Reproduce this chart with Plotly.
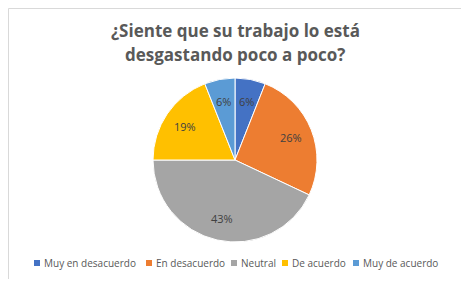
import math
import plotly.graph_objects as go

categories = ["Muy en desacuerdo", "En desacuerdo", "Neutral", "De acuerdo", "Muy de acuerdo"]
values = [6, 26, 43, 19, 6]
colors = ["#4472C4", "#ED7D31", "#A5A5A5", "#FFC000", "#5B9BD5"]
title_lines = ["¿Siente que su trabajo lo está", "desgastando poco a poco?"]

# page body has an 8px margin; figure sized to fit the 469x287 window
OFF = 8
FW, FH = 469 - 2 * OFF, 287 - 2 * OFF


def px(x):
    return (x - OFF) / FW


def py(y):
    return 1 - (y - OFF) / FH


# pie geometry (window pixels)
CX, CY, R = 235, 160, 82

fig = go.Figure(go.Pie(
    labels=categories,
    values=values,
    sort=False,
    direction="clockwise",
    rotation=0,
    marker=dict(colors=colors, line=dict(color="white", width=1)),
    textinfo="none",
    domain=dict(x=[px(CX - R), px(CX + R)], y=[py(CY + R), py(CY - R)]),
    hoverinfo="label+percent",
    showlegend=False,
))

annotations = []
# title
for i, line in enumerate(title_lines):
    annotations.append(dict(
        text="<b>" + line + "</b>", x=px(235), y=py(30 + 25 * i), xref="paper", yref="paper",
        xanchor="center", yanchor="middle", showarrow=False,
        font=dict(family="Open Sans", size=17, color="#595959"),
    ))

# percentage labels placed along each slice's mid angle
total = sum(values)
cum = 0
for v in values:
    mid = (cum + v / 2) / total * 2 * math.pi
    cum += v
    lx = CX + 0.73 * R * math.sin(mid)
    ly = CY - 0.73 * R * math.cos(mid)
    annotations.append(dict(
        text=f"{round(100 * v / total)}%", x=px(lx), y=py(ly), xref="paper", yref="paper",
        xanchor="center", yanchor="middle", showarrow=False,
        font=dict(family="Open Sans", size=11, color="#404040"),
    ))

# custom horizontal legend
legend_sq_x = [34, 146, 231, 282, 353]
LEG_Y = 263
shapes = []
for name, col, sx in zip(categories, colors, legend_sq_x):
    shapes.append(dict(
        type="rect", xref="paper", yref="paper",
        x0=px(sx), x1=px(sx + 6), y0=py(LEG_Y + 3), y1=py(LEG_Y - 3),
        fillcolor=col, line=dict(width=0),
    ))
    annotations.append(dict(
        text=name, x=px(sx + 8), y=py(LEG_Y), xref="paper", yref="paper",
        xanchor="left", yanchor="middle", showarrow=False,
        font=dict(family="Open Sans", size=10, color="#595959"),
    ))

# chart frame
shapes.append(dict(
    type="rect", xref="paper", yref="paper",
    x0=px(OFF + 0.5), x1=px(464), y0=py(281), y1=py(OFF + 0.5),
    line=dict(color="#D9D9D9", width=1), fillcolor="rgba(0,0,0,0)", layer="below",
))

fig.update_layout(
    width=FW, height=FH,
    margin=dict(l=0, r=0, t=0, b=0),
    paper_bgcolor="white",
    plot_bgcolor="white",
    showlegend=False,
    annotations=annotations,
    shapes=shapes,
)

fig.write_html("out.html")
